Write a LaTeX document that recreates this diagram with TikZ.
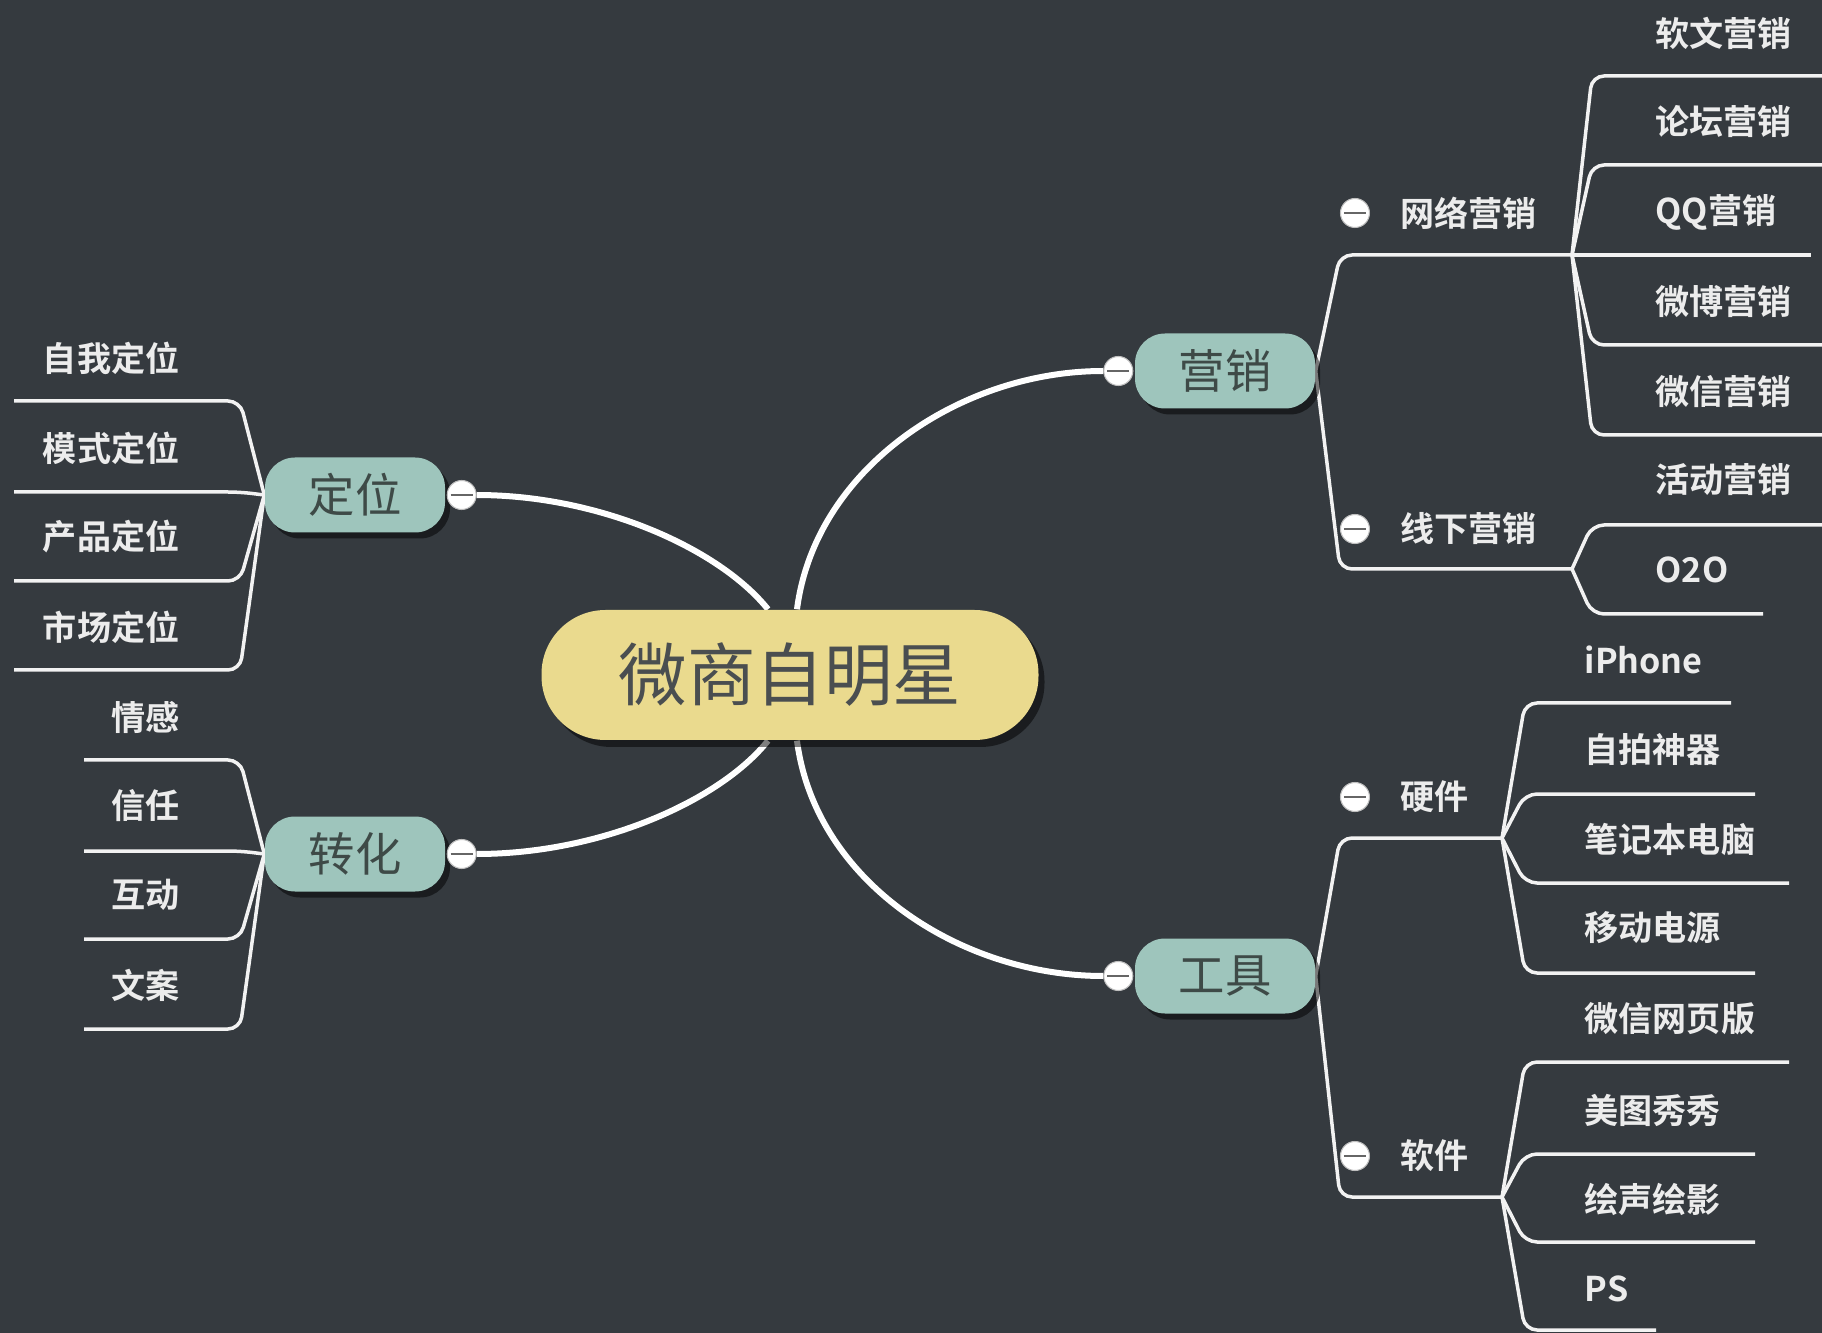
\documentclass[tikz,border=0pt]{standalone}
\usepackage{fontspec}
\setmainfont{Noto Sans CJK SC}[BoldFont={Noto Sans CJK SC Bold}]
\usetikzlibrary{shadows}
\usetikzlibrary{positioning}
\usetikzlibrary{backgrounds}
\definecolor{bgslate}{RGB}{53,58,63}
\definecolor{rootyellow}{RGB}{234,218,142}
\definecolor{topicteal}{RGB}{158,197,188}
\definecolor{topicink}{RGB}{62,74,71}
\definecolor{rootink}{RGB}{74,78,80}
\definecolor{twigwhite}{RGB}{242,242,242}
\definecolor{leafink}{RGB}{236,236,236}
\newcommand{\rootfont}{\fontsize{19.5pt}{21pt}\selectfont}
\newcommand{\topicfont}{\fontsize{13.2pt}{15pt}\selectfont}
\newcommand{\leaffont}{\fontsize{9.7pt}{11pt}\selectfont\bfseries}

\begin{document}
\begin{tikzpicture}[x=0.1mm,y=-0.1mm,
  root/.style={rectangle,rounded corners=6.4mm,minimum width=49.7mm,minimum height=13mm,
    fill=rootyellow,text=rootink,font=\rootfont,
    drop shadow={shadow xshift=0.6mm,shadow yshift=-0.7mm,fill=black,opacity=0.5}},
  topic/.style={rectangle,rounded corners=3mm,minimum width=18mm,minimum height=7.5mm,
    fill=topicteal,text=topicink,font=\topicfont,
    drop shadow={shadow xshift=0.5mm,shadow yshift=-0.6mm,fill=black,opacity=0.5}},
  fold/.style={circle,fill=white,draw=gray!50,line width=0.3pt,minimum size=2.9mm,inner sep=0pt,
    path picture={\draw[black!60,line width=0.5pt] ([xshift=-1.1mm]path picture bounding box.center) -- ([xshift=1.1mm]path picture bounding box.center);}},
  branch/.style={text=leafink,font=\leaffont,inner sep=0pt,anchor=west},
  leafr/.style={text=leafink,font=\leaffont,inner sep=0pt,anchor=west},
  leafl/.style={text=leafink,font=\leaffont,inner sep=0pt,anchor=east},
  trunk/.style={draw=white,line width=0.6mm},
  twig/.style={draw=twigwhite,line width=0.35mm,rounded corners=1.2mm}]

%% background
\begin{scope}[on background layer]
\fill[bgslate] (0,0) rectangle (1822,1333);
\end{scope}
\useasboundingbox (0,0) rectangle (1822,1333);

%% centre and main topics
\node[root] (root) at (790,675) {微商自明星};
\node[topic] (yingxiao) at (1225,371) {营销};
\node[topic] (gongju) at (1225,976) {工具};
\node[topic] (dingwei) at (355,495) {定位};
\node[topic] (zhuanhua) at (355,854) {转化};
% fold buttons
\node[fold] (yx-fold) at ([shift={(-16,0)}]yingxiao.west) {};
\node[fold] (gj-fold) at ([shift={(-16,0)}]gongju.west) {};
\node[fold] (dw-fold) at ([shift={(16,0)}]dingwei.east) {};
\node[fold] (zh-fold) at ([shift={(16,0)}]zhuanhua.east) {};

%% sub branches
\node[branch] (wangluo) at (1400,213) {网络营销};
\node[branch] (xianxia) at (1400,529) {线下营销};
\node[branch] (yingjian) at (1400,797) {硬件};
\node[branch] (ruanjian) at (1400,1156) {软件};
\node[fold,left=3mm of wangluo] (wl-fold) {};
\node[fold,left=3mm of xianxia] (xx-fold) {};
\node[fold,left=3mm of yingjian] (yj-fold) {};
\node[fold,left=3mm of ruanjian] (rj-fold) {};
\coordinate (wl-j) at (1572,255);
\coordinate (xx-j) at (1572,569);
\coordinate (yj-j) at (1502,838);
\coordinate (rj-j) at (1502,1197);

%% leaves
% right side
\foreach \ty/\uy/\ue/\nm/\txt in {33/76/1822/ruanwen/软文营销, 122/165/1822/luntan/论坛营销,
    212/255/1811/qqyx/QQ营销, 302/345/1822/weibo/微博营销, 392/435/1822/weixin/微信营销,
    480/525/1822/huodong/活动营销, 570/614/1763/otoo/O2O}{
  \node[leafr] (\nm) at (1655,\ty) {\txt};
  \coordinate (\nm-e) at (\ue,\uy);
}
\foreach \ty/\uy/\ue/\nm/\txt in {660/703/1731/iphone/iPhone, 750/794/1755/zipai/自拍神器,
    839/883/1789/bijiben/笔记本电脑, 928/973/1755/yidong/移动电源,
    1019/1062/1789/wxweb/微信网页版, 1110/1154/1755/meitu/美图秀秀,
    1199/1242/1755/huisheng/绘声绘影, 1289/1330/1656/ps/PS}{
  \node[leafr] (\nm) at (1584,\ty) {\txt};
  \coordinate (\nm-e) at (\ue,\uy);
}
% left side
\foreach \ty/\uy/\ue/\nm/\txt in {358/401/14/ziwo/自我定位, 448/492/14/moshi/模式定位,
    537/581/14/chanpin/产品定位, 627/670/14/shichang/市场定位,
    717/760/84/qinggan/情感, 806/851/84/xinren/信任,
    895/939/84/hudong/互动, 985/1029/84/wenan/文案}{
  \node[leafl] (\nm) at (180,\ty) {\txt};
  \coordinate (\nm-e) at (\ue,\uy);
}

%% connectors
\begin{scope}[on background layer]
% main curves
\draw[trunk] ([shift={(7,0)}]root.north) .. controls +(18,-140) and +(-144,0) .. (yx-fold.west);
\draw[trunk] ([shift={(7,0)}]root.south) .. controls +(18,140) and +(-144,0) .. (gj-fold.west);
\draw[trunk] ([shift={(-22,0)}]root.north) .. controls +(-48,-60) and +(124,0) .. (dw-fold.east);
\draw[trunk] ([shift={(-22,0)}]root.south) .. controls +(-48,60) and +(124,0) .. (zh-fold.east);
% stems
\draw[twig] (yingxiao.east) -- (1340,255) -- (wl-j);
\draw[twig] (yingxiao.east) -- (1340,569) -- (xx-j);
\draw[twig] (gongju.east) -- (1340,838) -- (yj-j);
\draw[twig] (gongju.east) -- (1340,1197) -- (rj-j);
% leaf lines
\foreach \nm/\uy in {ruanwen/76, luntan/165, qqyx/255, weibo/345, weixin/435}
  \draw[twig] (wl-j) -- (1592,\uy) -- (\nm-e);
\foreach \nm/\uy in {huodong/525, otoo/614}
  \draw[twig] (xx-j) -- (1592,\uy) -- (\nm-e);
\foreach \nm/\uy in {iphone/703, zipai/794, bijiben/883, yidong/973}
  \draw[twig] (yj-j) -- (1525,\uy) -- (\nm-e);
\foreach \nm/\uy in {wxweb/1062, meitu/1154, huisheng/1242, ps/1330}
  \draw[twig] (rj-j) -- (1525,\uy) -- (\nm-e);
\foreach \nm/\uy in {ziwo/401, moshi/492, chanpin/581, shichang/670}
  \draw[twig] (dingwei.west) -- (240,\uy) -- (\nm-e);
\foreach \nm/\uy in {qinggan/760, xinren/851, hudong/939, wenan/1029}
  \draw[twig] (zhuanhua.west) -- (240,\uy) -- (\nm-e);
\end{scope}

\end{tikzpicture}
\end{document}
